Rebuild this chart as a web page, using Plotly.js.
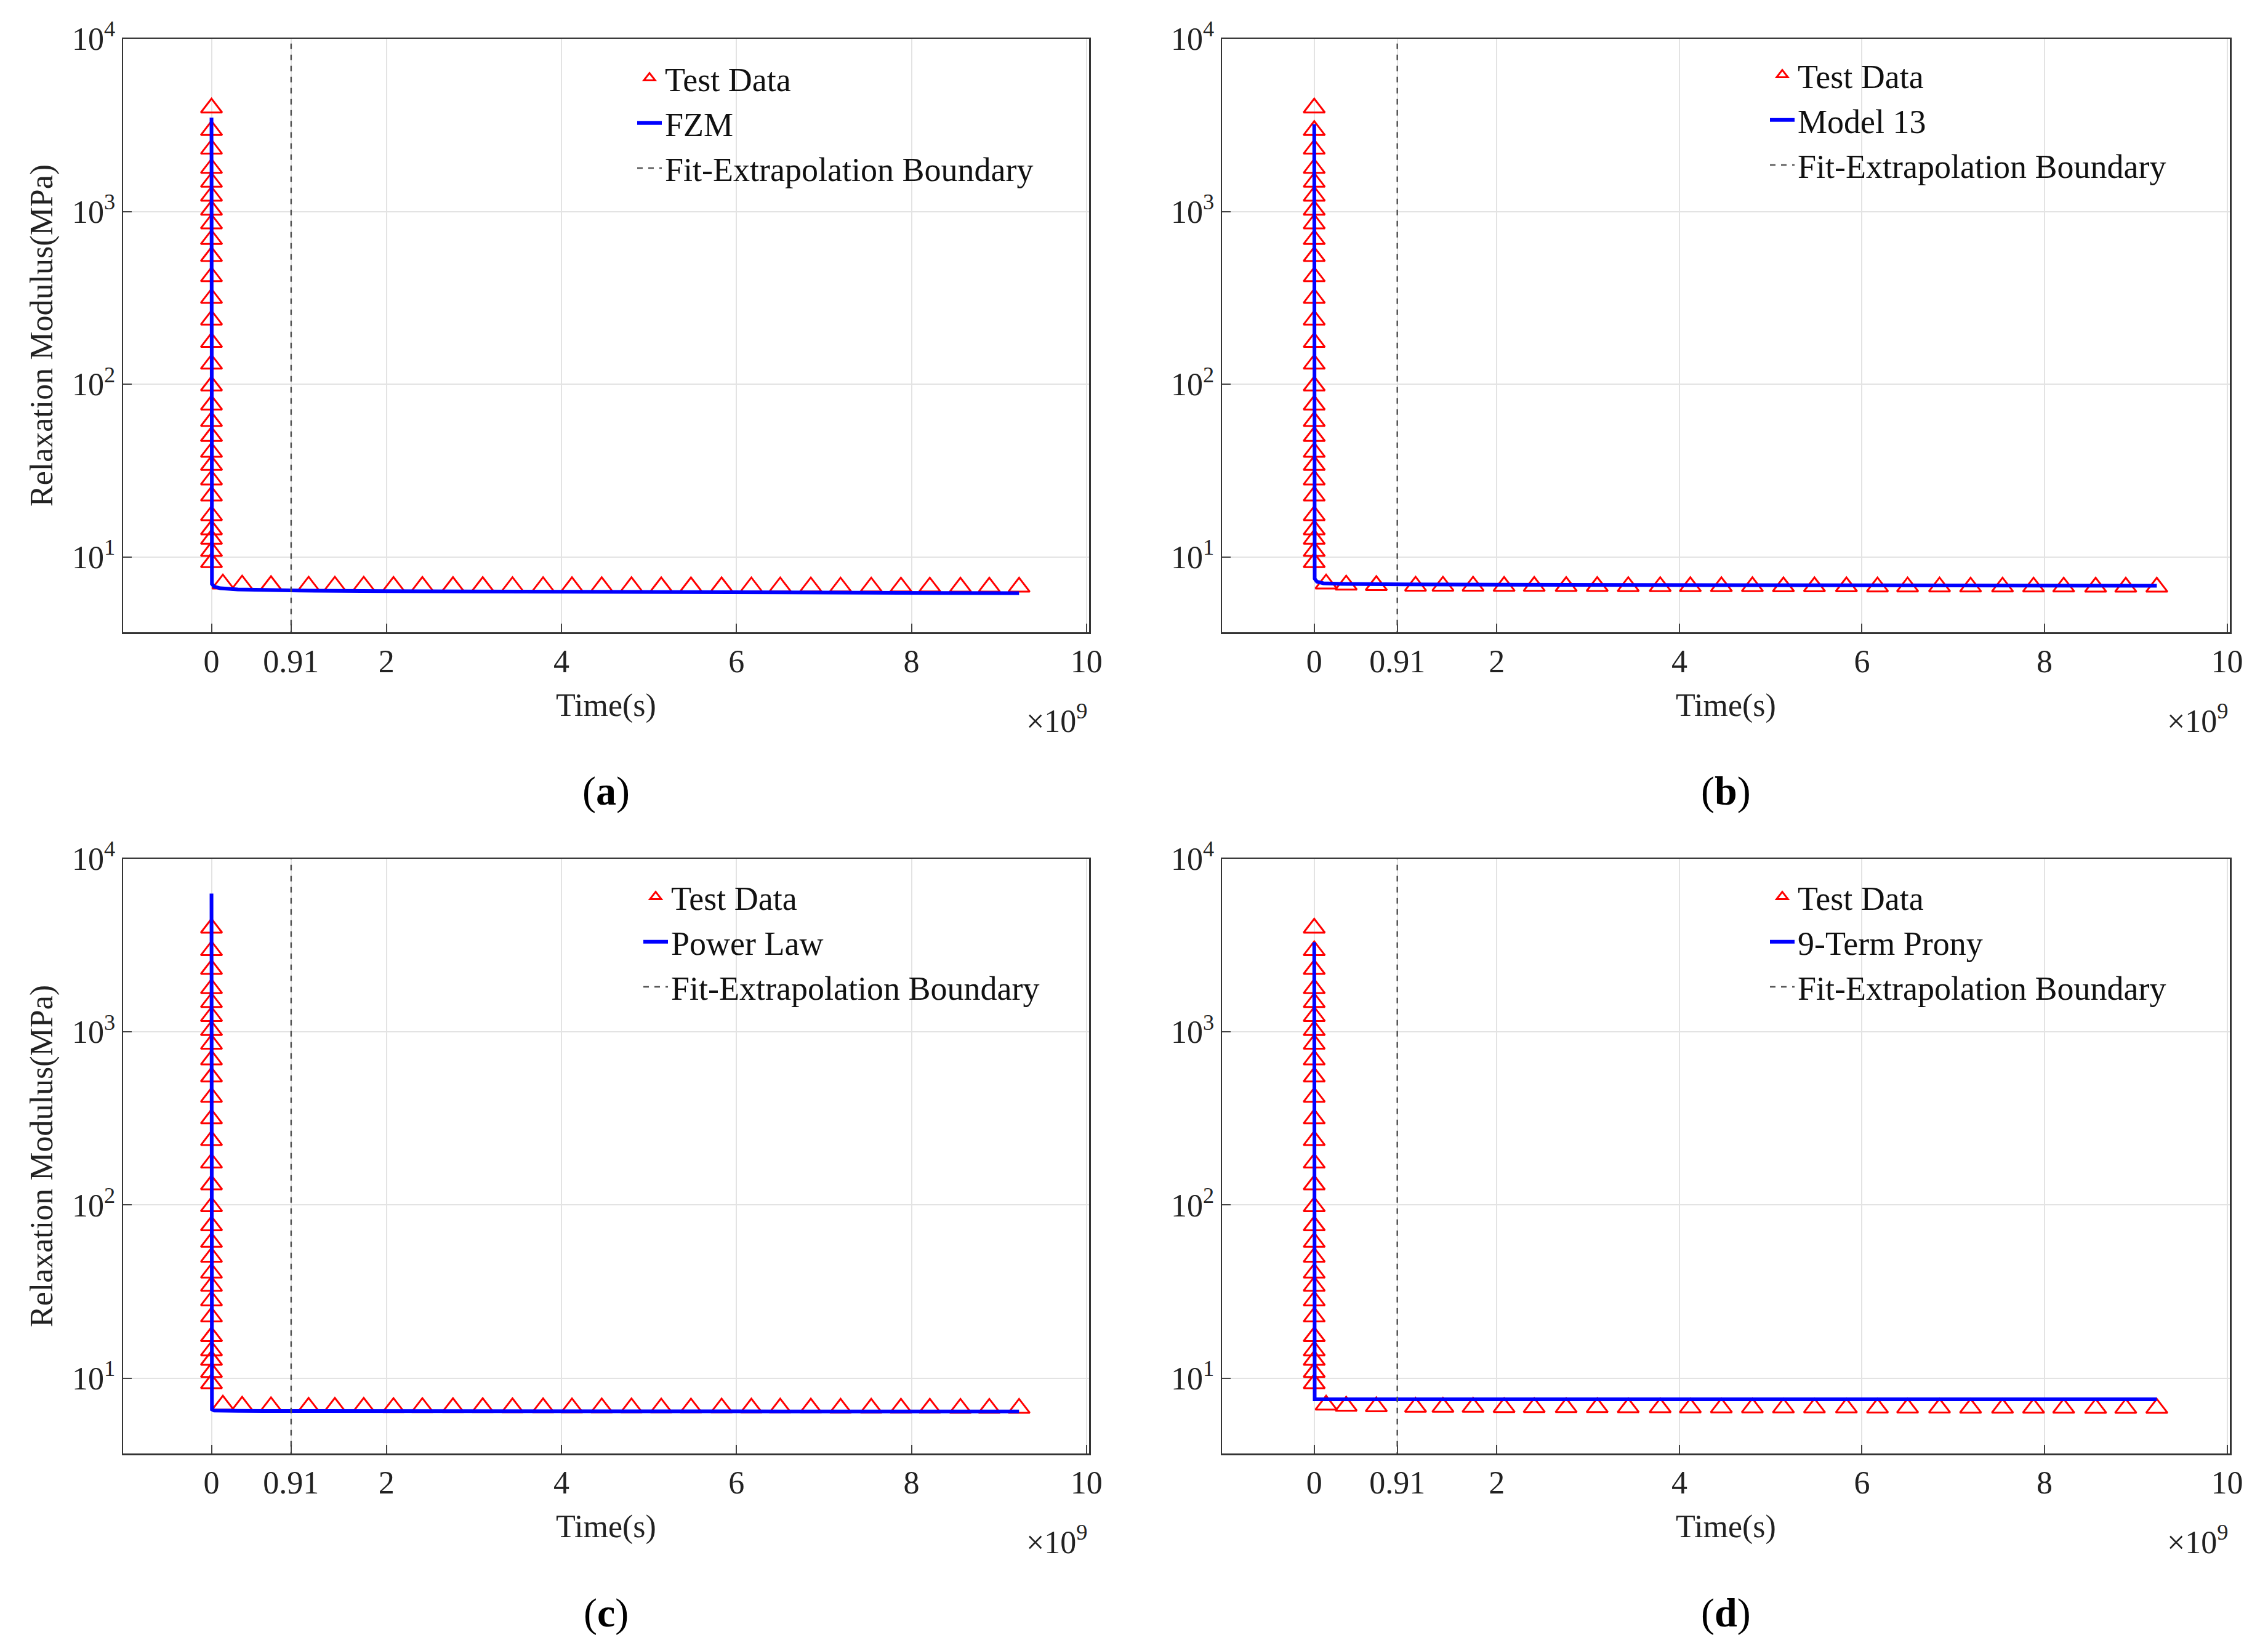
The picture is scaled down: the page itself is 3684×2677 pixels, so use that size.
<!DOCTYPE html>
<html>
<head>
<meta charset="utf-8">
<script src="https://cdn.plot.ly/plotly-3.0.1.min.js"></script>
<style>html,body{margin:0;padding:0;background:#fff}#chart{width:3684px;height:2677px}</style>
</head>
<body>
<div id="chart"></div>
<script>
// ─── data (time in 1e9 s, modulus in MPa) ───────────────────
var testTime = [0,0,0,0,0,0,0,0,0,0,0,0,0,0,0,0,0,0,0,0,0,0,0,0,0,0,0,0,
  0.13,0.35,0.68,1.11,1.41,1.74,2.08,2.41,2.76,3.10,3.44,3.79,4.12,4.46,4.80,5.14,
  5.48,5.83,6.17,6.50,6.85,7.19,7.54,7.88,8.21,8.56,8.89,9.23];
var testModulus = [3981,2950,2300,1780,1480,1230,1020,850,690,550,420,315,236,175,131,98,
  76,61,50,40.5,34,28,22.6,17.4,14.4,12.7,10.8,9.3,
  7.0,6.9,6.85,6.8,6.8,6.8,6.78,6.78,6.77,6.77,6.76,6.76,6.75,6.75,6.75,6.74,
  6.74,6.74,6.73,6.73,6.73,6.72,6.72,6.72,6.72,6.71,6.71,6.71];

var fitTime = [0,0,0,0.005,0.03,0.1,0.3,0.6,1,2,3,4,5,6,7,8,9.23];
var fzmModulus   = [3500,100,7.6,7.0,6.75,6.6,6.5,6.45,6.4,6.35,6.32,6.3,6.27,6.25,6.22,6.2,6.18];
var model13Mod   = [3200,100,8.0,7.5,7.2,7.05,7.0,6.97,6.95,6.92,6.9,6.88,6.87,6.86,6.85,6.84,6.82];
var powerLawMod  = [6300,100,7.0,6.6,6.5,6.48,6.47,6.46,6.45,6.45,6.44,6.44,6.43,6.43,6.43,6.42,6.42];
var pronyMod     = [3300,100,7.6,7.55,7.55,7.55,7.55,7.55,7.55,7.55,7.55,7.55,7.55,7.55,7.55,7.55,7.55];

var boundary = 0.91;
var xTickVals = [0, 0.91, 2, 4, 6, 8, 10];
var xTickText = ['0', '0.91', '2', '4', '6', '8', '10'];
var yTickVals = [10, 100, 1000, 10000];
var yTickText = ['10<sup>1</sup>', '10<sup>2</sup>', '10<sup>3</sup>', '10<sup>4</sup>'];
var modelNames = ['FZM', 'Model 13', 'Power Law', '9-Term Prony'];
var modelValues = [fzmModulus, model13Mod, powerLawMod, pronyMod];
var panelLabels = ['a', 'b', 'c', 'd'];

// ─── layout geometry ────────────────────────────────────────
var W = 3684, H = 2677;
var xDomains = [[200 / W, 1769 / W], [1985 / W, 3622 / W]];
var yDomains = [[1 - 1027 / H, 1 - 63 / H], [1 - 2361 / H, 1 - 1395 / H]];
var labelY = [1285, 2620];
var FONT = 'Liberation Serif, Times New Roman, serif';
var legendPos = [[1030, 85], [2870, 80], [1040, 1415], [2870, 1415]];

var traces = [];
var layout = {
  width: W, height: H, margin: { l: 0, r: 0, t: 0, b: 0 },
  paper_bgcolor: '#fff', plot_bgcolor: '#fff',
  font: { family: FONT, size: 50, color: '#222' },
  showlegend: true, annotations: []
};

for (var i = 0; i < 4; i++) {
  var col = i % 2, row = Math.floor(i / 2);
  var sfx = i === 0 ? '' : String(i + 1);
  var xa = 'x' + sfx, ya = 'y' + sfx;
  var lg = 'legend' + sfx;

  traces.push({
    type: 'scatter', mode: 'markers', name: 'Test Data', xaxis: xa, yaxis: ya, legend: lg,
    x: testTime, y: testModulus,
    marker: { symbol: 'triangle-up-open', size: 30, color: '#ff0000', line: { width: 3, color: '#ff0000' } }
  });
  traces.push({
    type: 'scatter', mode: 'lines', name: modelNames[i], xaxis: xa, yaxis: ya, legend: lg,
    x: fitTime, y: modelValues[i], line: { color: '#0000ff', width: 6 }
  });
  traces.push({
    type: 'scatter', mode: 'lines', name: 'Fit-Extrapolation Boundary', xaxis: xa, yaxis: ya, legend: lg,
    x: [boundary, boundary], y: [3, 12000], line: { color: '#555', width: 2.5, dash: 'dash' }
  });

  layout['xaxis' + sfx] = {
    domain: xDomains[col], anchor: ya, range: [-1.01, 10.03],
    tickvals: xTickVals, ticktext: xTickText, ticks: 'inside', ticklen: 14, tickwidth: 2,
    showline: true, mirror: true, linecolor: '#333', linewidth: 2.5,
    showgrid: true, gridcolor: '#e3e3e3', gridwidth: 2, zeroline: false,
    tickfont: { family: FONT, size: 52, color: '#222' },
    title: { text: 'Time(s)', font: { family: FONT, size: 52, color: '#222' }, standoff: 25 }
  };
  layout['yaxis' + sfx] = {
    domain: yDomains[row], anchor: xa, type: 'log', range: [0.565, 4],
    tickvals: yTickVals, ticktext: yTickText, ticks: 'inside', ticklen: 14, tickwidth: 2,
    showline: true, mirror: true, linecolor: '#333', linewidth: 2.5,
    showgrid: true, gridcolor: '#e3e3e3', gridwidth: 2, zeroline: false,
    tickfont: { family: FONT, size: 52, color: '#222' },
    title: col === 0 ? { text: 'Relaxation Modulus(MPa)', font: { family: FONT, size: 52, color: '#222' }, standoff: 15 } : { text: '' }
  };
  layout[lg] = {
    x: legendPos[i][0] / W, y: 1 - legendPos[i][1] / H, xanchor: 'left', yanchor: 'top',
    bgcolor: 'rgba(255,255,255,0)', borderwidth: 0, itemwidth: 40, tracegroupgap: 0,
    font: { family: FONT, size: 54, color: '#111' }
  };

  var xRight = xDomains[col][1];
  var yBottom = yDomains[row][0];
  layout.annotations.push({
    xref: 'paper', yref: 'paper', x: xRight, y: yBottom - 140 / H, xanchor: 'right', yanchor: 'middle',
    text: '×10<sup>9</sup>', showarrow: false, font: { family: FONT, size: 52, color: '#222' }
  });
  layout.annotations.push({
    xref: 'paper', yref: 'paper', x: (xDomains[col][0] + xRight) / 2, y: 1 - labelY[row] / H,
    xanchor: 'center', yanchor: 'middle', text: '(<b>' + panelLabels[i] + '</b>)', showarrow: false,
    font: { family: FONT, size: 66, color: '#000' }
  });
}

Plotly.newPlot('chart', traces, layout, { staticPlot: true });
</script>
</body>
</html>
